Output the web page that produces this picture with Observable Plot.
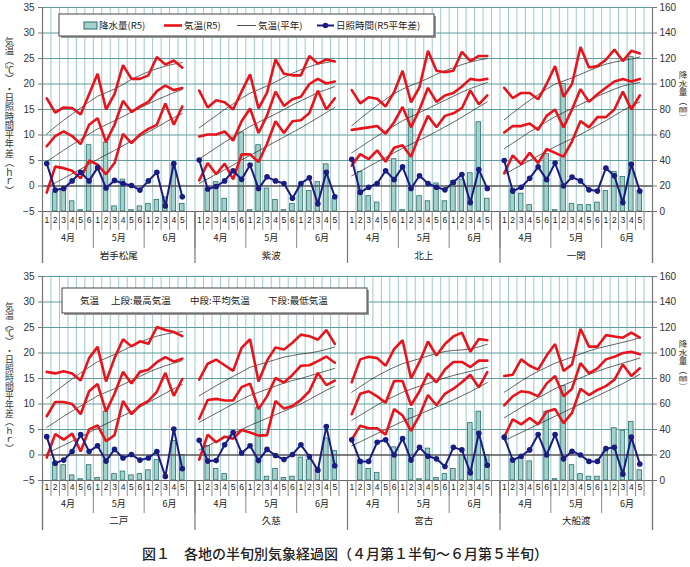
<!DOCTYPE html>
<html><head><meta charset="utf-8">
<script src="https://cdn.jsdelivr.net/npm/d3@7"></script>
<script src="https://cdn.jsdelivr.net/npm/@observablehq/plot@0.6"></script>
<style>
body{margin:0;background:#fff;font-family:"Noto Sans CJK JP",sans-serif;}
#wrap{position:relative;width:690px;height:567px;overflow:hidden;}
.row{position:absolute;left:0;}
#title{position:absolute;left:0;width:690px;top:543px;text-align:center;font-size:14px;font-weight:500;color:#222;font-family:"Noto Sans CJK JP",sans-serif;}
</style></head><body><div id="wrap">
<div id="r1" class="row" style="top:0"></div>
<div id="r2" class="row" style="top:268px"></div>
<div id="title">図１　各地の半旬別気象経過図（４月第１半旬～６月第５半旬）</div>
</div>
<script>
// ---- labels / ticks ----
const stations = ["岩手松尾","紫波","北上","一関","二戸","久慈","宮古","大船渡"];
const periodLabels = ["1","2","3","4","5","6","1","2","3","4","5","6","1","2","3","4","5"];
const monthLabels = ["4月","5月","6月"];
const tempTicks = [-5,0,5,10,15,20,25,30,35];
const precipTicks = [0,20,40,60,80,100,120,140,160];
const legendTop = ["降水量(R5)","気温(R5)","気温(平年)","日照時間(R5平年差)"];
const legendBottom = ["気温","上段:最高気温","中段:平均気温","下段:最低気温"];
const leftTitle = "気温︵℃︶・日照時間平年差︵ｈｒ︶";
const rightTitle = "降水量︵㎜︶";

// ---- data (one row per station, in the order of `stations`) ----
const precip = [
 [0,15,17,8,1,52,0,54,4,25,1,4,6,9,11,37,6],
 [0,18,23,10,0,62,1,52,18,9,1,6,20,16,23,37,10],
 [0,31,12,7,0,41,1,80,12,8,22,8,24,25,30,70,10],
 [0,18,14,5,0,45,1,100,6,5,5,7,16,31,27,121,16],
 [0,14,12,4,1,12,2,54,5,7,4,5,8,16,0,31,20],
 [0,27,9,5,0,0,0,57,3,9,2,3,18,16,10,33,23],
 [0,16,9,6,0,26,0,56,1,25,2,5,9,20,45,54,20],
 [0,17,18,15,0,54,1,74,12,5,3,3,23,41,39,46,8]
];
const tMaxR5 = [
 [17.2,14.4,15.4,15.3,14.0,18.0,22.0,15.0,18.0,23.7,21.0,21.0,21.7,25.3,23.8,24.6,23.2],
 [18.7,15.4,16.8,16.4,15.0,18.5,21.9,15.2,18.3,24.8,22.0,21.7,21.7,25.5,24.0,24.8,24.4],
 [18.8,16.2,17.4,17.1,15.6,18.4,22.6,16.4,19.4,26.5,22.6,22.3,22.6,26.3,24.5,25.5,25.5],
 [19.25,17.25,18.25,18.25,17.0,20.0,23.5,17.5,20.0,27.25,23.25,23.5,24.75,26.75,24.5,26.5,26.0],
 [16.3,16.0,16.4,16.0,14.6,19.0,21.2,14.4,19.0,22.7,21.3,22.3,21.8,25.1,24.5,24.1,23.3],
 [14.8,17.9,18.7,17.6,16.5,21.0,22.7,14.4,18.5,21.1,20.7,22.0,23.6,23.3,22.6,24.5,21.8],
 [14.25,18.75,19.25,19.0,17.5,20.75,22.5,15.0,18.25,22.25,19.5,21.75,23.25,24.0,20.25,22.75,22.5],
 [15.5,15.75,18.75,17.5,16.75,19.5,21.75,16.5,17.75,24.75,21.25,21.25,23.5,23.25,23.0,24.0,23.0]
];
const tMeanR5 = [
 [7.8,9.8,10.7,9.8,8.2,12.0,13.3,8.6,12.0,16.7,14.5,15.6,16.5,18.6,19.7,18.8,19.2],
 [9.7,10.1,10.1,10.7,8.9,12.7,15.2,10.4,13.8,18.5,15.7,17.0,17.5,20.0,21.0,20.1,20.5],
 [11.0,11.25,11.5,11.75,10.25,12.5,15.5,11.5,15.0,19.25,16.5,17.75,18.25,19.5,21.0,20.75,21.0],
 [10.5,11.75,11.75,12.25,11.0,13.75,15.0,11.5,15.0,19.0,16.5,18.0,19.25,20.5,21.0,20.5,21.0],
 [7.6,10.4,10.4,10.0,8.0,12.5,13.9,8.5,12.0,16.3,14.0,16.3,16.7,18.2,19.2,18.3,18.9],
 [7.1,10.8,11.0,10.7,10.7,13.3,14.0,9.0,11.5,15.1,14.2,15.7,17.5,17.6,18.4,19.3,18.1],
 [8.0,12.0,12.5,11.5,10.25,14.5,14.5,9.75,12.5,16.0,14.25,16.75,18.25,18.25,17.25,18.5,18.5],
 [9.75,11.5,12.5,12.25,11.5,14.0,15.5,11.5,13.0,18.0,16.0,17.0,18.75,19.25,20.0,20.25,19.75]
];
const tMinR5 = [
 [-1.3,3.8,3.5,3.0,1.5,5.0,4.2,2.3,4.5,10.2,8.4,10.1,11.2,12.0,16.2,12.0,15.6],
 [1.1,4.5,2.3,4.4,1.3,6.2,6.2,4.7,8.3,12.7,10.4,12.7,12.9,14.3,18.7,15.0,17.2],
 [4.0,6.25,5.25,7.0,4.75,7.5,8.0,5.75,10.0,13.75,11.5,13.75,14.25,15.25,18.75,16.0,17.75],
 [2.5,6.0,4.25,6.5,4.5,7.25,6.5,5.75,8.75,12.75,11.5,13.5,13.5,15.0,18.5,15.0,17.75],
 [-0.5,4.1,3.0,4.2,0.7,5.0,5.8,2.7,3.9,10.6,8.0,9.7,10.6,12.4,16.1,11.6,14.9],
 [-0.9,4.0,2.5,3.6,3.2,4.9,4.4,3.8,3.9,10.6,9.1,9.6,10.8,12.5,16.1,13.7,14.6],
 [3.0,5.75,5.25,5.25,4.0,9.0,7.75,4.75,7.75,11.75,9.75,12.0,13.0,14.25,15.75,13.25,16.25],
 [3.5,7.0,6.0,7.25,6.0,8.5,9.0,6.25,8.25,13.0,11.75,12.75,13.5,14.75,17.75,15.5,17.0]
];
const tMaxNorm = [
 [10.2,11.6,12.9,14.1,15.3,16.5,17.6,18.3,19.0,19.9,20.9,21.7,22.4,23.0,23.5,23.9,24.2],
 [11.4,12.6,13.8,15.0,16.1,17.2,18.2,18.9,19.6,20.4,21.3,22.1,22.8,23.4,23.9,24.2,24.5],
 [11.8,13.2,14.5,15.8,17.0,18.1,19.0,19.7,20.4,21.1,21.9,22.6,23.2,23.8,24.3,24.7,25.0],
 [13.0,14.3,15.6,16.8,17.9,19.0,20.0,20.6,21.2,21.9,22.6,23.3,23.9,24.3,24.6,24.9,25.3],
 [11.1,12.4,13.7,14.9,16.1,17.2,18.3,19.0,19.7,20.5,21.3,22.1,22.8,23.3,23.7,24.0,24.2],
 [11.6,12.6,13.6,14.5,15.4,16.3,17.2,17.7,18.2,18.7,19.2,19.5,19.8,20.0,20.3,20.7,21.2],
 [12.3,13.4,14.5,15.5,16.4,17.2,17.9,18.4,18.9,19.4,19.9,20.3,20.5,20.6,20.8,21.2,21.7],
 [12.3,13.4,14.5,15.5,16.4,17.2,18.0,18.6,19.2,19.8,20.4,20.9,21.3,21.7,22.1,22.5,23.0]
];
const tMeanNorm = [
 [4.8,5.9,7.0,8.1,9.1,10.2,11.2,12.0,12.8,13.6,14.5,15.3,16.1,16.9,17.6,18.3,18.9],
 [5.3,6.4,7.5,8.6,9.6,10.7,11.7,12.5,13.3,14.1,15.0,15.9,16.7,17.5,18.3,18.9,19.5],
 [6.5,7.6,8.7,9.8,10.8,11.8,12.8,13.6,14.4,15.2,16.0,16.8,17.6,18.4,19.1,19.7,20.3],
 [7.3,8.4,9.5,10.6,11.6,12.6,13.6,14.4,15.2,16.0,16.8,17.6,18.3,19.0,19.6,20.0,20.3],
 [5.4,6.5,7.6,8.6,9.6,10.6,11.6,12.3,13.0,13.8,14.6,15.4,16.2,16.9,17.5,18.0,18.5],
 [6.4,7.3,8.2,9.1,10.0,10.9,11.7,12.3,12.9,13.5,14.1,14.6,15.0,15.5,16.0,16.5,17.0],
 [6.8,7.8,8.8,9.8,10.7,11.5,12.3,12.9,13.5,14.0,14.6,15.1,15.6,16.0,16.4,16.8,17.2],
 [7.3,8.3,9.3,10.3,11.2,12.1,13.0,13.7,14.4,15.1,15.8,16.4,17.0,17.5,18.0,18.5,19.0]
];
const tMinNorm = [
 [-0.3,0.6,1.5,2.4,3.3,4.3,5.2,6.1,7.0,7.9,8.8,9.7,10.6,11.5,12.5,13.4,14.2],
 [0.5,1.4,2.3,3.2,4.1,5.1,6.0,6.9,7.8,8.7,9.6,10.5,11.4,12.4,13.4,14.4,15.4],
 [2.0,2.9,3.8,4.7,5.6,6.5,7.4,8.2,9.0,9.8,10.7,11.6,12.5,13.5,14.5,15.5,16.5],
 [2.3,3.2,4.1,5.0,5.9,6.8,7.7,8.5,9.3,10.1,11.0,11.9,12.8,13.8,14.8,15.7,16.5],
 [0.3,1.1,1.9,2.7,3.5,4.4,5.3,6.1,6.9,7.7,8.5,9.4,10.3,11.2,12.1,13.0,13.8],
 [1.0,1.8,2.6,3.4,4.2,5.0,5.8,6.5,7.2,7.9,8.6,9.3,10.0,10.9,11.8,12.7,13.5],
 [1.8,2.6,3.4,4.2,5.0,5.8,6.6,7.3,8.0,8.7,9.4,10.1,10.8,11.6,12.4,13.3,14.2],
 [2.8,3.6,4.4,5.2,6.0,6.8,7.6,8.4,9.2,10.0,10.8,11.6,12.4,13.2,14.0,14.9,15.8]
];
const sunAnom = [
 [4.4,-0.8,-0.5,1.0,2.7,1.0,3.6,-0.4,1.1,0.5,0.1,-0.8,1.0,2.7,-3.9,4.4,-2.1],
 [5.1,-0.6,-0.1,1.0,3.0,1.3,4.1,-0.5,1.8,1.0,0.5,-2.4,0.5,1.6,-3.5,2.7,-2.1],
 [5.25,-1.25,-0.25,0.5,3.0,1.25,3.75,-0.5,2.0,0.5,-0.25,-0.75,0.75,2.25,-3.25,3.25,-0.5],
 [5.0,-1.0,-0.25,1.5,3.75,1.25,4.5,0.0,1.75,1.0,-0.75,-1.0,3.5,2.0,-3.25,4.25,-1.0],
 [3.6,-1.6,-1.0,0.7,4.0,0.7,1.8,-1.2,1.1,-0.6,0.1,-1.0,-0.6,0.7,-4.2,5.1,-2.7],
 [2.9,-1.2,-1.1,2.0,4.4,0.4,1.8,-1.1,1.1,-0.1,-0.9,0.1,2.0,-0.3,-3.0,5.6,-2.1],
 [3.0,-1.25,-1.25,2.5,3.0,0.0,3.25,-1.0,1.5,-0.25,-0.75,-2.25,1.5,1.0,-3.5,4.25,-2.0],
 [3.5,-1.0,-0.25,1.0,4.0,0.0,4.0,-0.75,0.75,0.0,-1.25,-1.25,1.25,1.5,-3.75,3.5,-1.75]
];

// ---- styling ----
const RED = "#e8131b", NAVY = "#1a1c82", BARFILL = "#a3d1cc", BARSTROKE = "#2d6d6b";
const SLOTS = periodLabels.length + 1; // 17 periods + one blank slot per station
const PER_ROW = 4;
const NSLOT = SLOTS * PER_ROW;

// precipitation axis shares the frame with the temperature axis
const toLeft = d3.scaleLinear()
  .domain([precipTicks[0], precipTicks[precipTicks.length - 1]])
  .range([tempTicks[0], tempTicks[tempTicks.length - 1]]);

// month cells derived from the period labels
const monthStarts = periodLabels.map((l, i) => l === "1" ? i : -1).filter(i => i >= 0);

function buildRows(offset) {
  const rows = [];
  for (let s = 0; s < PER_ROW; s++) {
    const k = offset + s;
    periodLabels.forEach((lab, i) => rows.push({
      st: stations[k], s, i, x: s * SLOTS + i + 0.5,
      p: precip[k][i], mx: tMaxR5[k][i], mn: tMeanR5[k][i], mi: tMinR5[k][i],
      mxN: tMaxNorm[k][i], mnN: tMeanNorm[k][i], miN: tMinNorm[k][i], sun: sunAnom[k][i]
    }));
  }
  return rows;
}

function chart(offset, cfg) {
  const rows = buildRows(offset);
  const ymin = tempTicks[0], ymax = tempTicks[tempTicks.length - 1];
  const pxPerUnit = 204 / (ymax - ymin);
  const below = px => ymin - px / pxPerUnit;
  const slotBounds = d3.range(0, NSLOT + 1);
  const stationBounds = d3.range(0, PER_ROW + 1).map(s => s * SLOTS);
  const monthBounds = [], monthCells = [], stationCells = [];
  for (let s = 0; s < PER_ROW; s++) {
    monthStarts.forEach((st, m) => {
      const end = m + 1 < monthStarts.length ? monthStarts[m + 1] : SLOTS;
      monthBounds.push(s * SLOTS + st);
      monthCells.push({x: s * SLOTS + (st + end) / 2, label: monthLabels[m]});
    });
    stationCells.push({x: s * SLOTS + SLOTS / 2, label: stations[offset + s]});
  }
  const lineOpts = (key, stroke, w) => Plot.lineY(rows, {x: "x", y: key, z: "st", stroke, strokeWidth: w, strokeLinejoin: "miter"});
  const svg = Plot.plot({
    width: 690, height: cfg.height, marginTop: cfg.mt, marginBottom: cfg.height - cfg.mt - 204,
    marginLeft: 42, marginRight: 38,
    x: {domain: [0, NSLOT], axis: null},
    y: {domain: [ymin, ymax], axis: null},
    style: {fontFamily: "'Liberation Sans','Noto Sans CJK JP',sans-serif", fontSize: "10px", color: "#333", background: "white", overflow: "visible"},
    marks: [
      Plot.ruleX(slotBounds, {y1: ymin, y2: ymax, stroke: "#9ccaca", strokeWidth: 1}),
      Plot.ruleY(tempTicks.filter(t => t > ymin && t !== 0), {stroke: "#5f9e9e", strokeWidth: 1}),
      Plot.rectY(rows.filter(d => d.p > 0), {x1: d => d.x - 0.27, x2: d => d.x + 0.27, y1: ymin, y2: d => toLeft(d.p), fill: BARFILL, stroke: BARSTROKE, strokeWidth: 0.8}),
      Plot.ruleY([0], {stroke: "#555", strokeWidth: 1.6}),
      lineOpts("mxN", "#222", 0.7),
      lineOpts("mnN", "#222", 0.7),
      lineOpts("miN", "#222", 0.7),
      lineOpts("mx", RED, 2.6),
      lineOpts("mn", RED, 2.6),
      lineOpts("mi", RED, 2.6),
      lineOpts("sun", NAVY, 2),
      Plot.dot(rows, {x: "x", y: "sun", fill: NAVY, r: 2.8}),
      Plot.ruleY([ymin], {stroke: "#666", strokeWidth: 1.2}),
      Plot.ruleX([0, NSLOT], {y1: ymax, y2: below(cfg.sLen), stroke: "#777", strokeWidth: 1.2}),
      Plot.axisY(tempTicks, {anchor: "left", tickSize: 4, tickPadding: 4, label: null, fontSize: 10, stroke: "#777"}),
      Plot.axisY(precipTicks.map(toLeft), {anchor: "right", tickSize: 4, tickPadding: 3, label: null, fontSize: 10, stroke: "#777", tickFormat: t => String(Math.round(toLeft.invert(t)))}),
      Plot.ruleX(slotBounds, {y1: ymin, y2: below(cfg.pLen), stroke: "#888", strokeWidth: 1}),
      Plot.ruleX(monthBounds, {y1: ymin, y2: below(cfg.mLen), stroke: "#888", strokeWidth: 1}),
      Plot.ruleX(stationBounds, {y1: ymin, y2: below(cfg.sLen), stroke: "#777", strokeWidth: 1.2}),
      Plot.text(rows, {x: "x", text: d => periodLabels[d.i], frameAnchor: "bottom", dy: cfg.pDy, fontSize: 8.5, fill: "#222"}),
      Plot.text(monthCells, {x: "x", text: "label", frameAnchor: "bottom", dy: cfg.mDy, fontSize: 9, fill: "#222", fontFamily: "'Noto Sans CJK JP',sans-serif"}),
      Plot.text(stationCells, {x: "x", text: "label", frameAnchor: "bottom", dy: cfg.sDy, fontSize: 9.5, fill: "#222", fontFamily: "'Noto Sans CJK JP',sans-serif"})
    ]
  });
  return svg;
}

const svgTop = chart(0, {height: 268, mt: 7, pLen: 19, mLen: 37, sLen: 52, pDy: 11, mDy: 29, sDy: 47});
const svgBot = chart(4, {height: 266, mt: 8, pLen: 16, mLen: 33, sLen: 50, pDy: 9, mDy: 26, sDy: 43});
document.getElementById("r1").appendChild(svgTop);
document.getElementById("r2").appendChild(svgBot);

const FONT = "'Noto Sans CJK JP',sans-serif";
// vertical axis titles (single vertical text each)
function vTitle(svg, str, x, y0, size) {
  d3.select(svg).append("text")
    .attr("x", x).attr("y", y0)
    .attr("font-family", FONT).attr("font-size", size).attr("fill", "#333")
    .attr("text-anchor", "start")
    .style("writing-mode", "vertical-rl")
    .style("text-orientation", "upright")
    .text(str);
}
vTitle(svgTop, leftTitle, 9.5, 37, 9.3);
vTitle(svgTop, rightTitle, 683, 71, 8.5);
vTitle(svgBot, leftTitle, 9.5, 34, 8.9);
vTitle(svgBot, rightTitle, 683, 72, 8.5);

// top legend
{
  const g = d3.select(svgTop).append("g").attr("font-family", FONT).attr("font-size", 9.5).attr("fill", "#222").attr("text-anchor", "start");
  g.append("rect").attr("x", 61).attr("y", 16).attr("width", 375).attr("height", 22).attr("fill", "#9a9a9a");
  g.append("rect").attr("x", 59).attr("y", 14).attr("width", 375).attr("height", 22).attr("fill", "white").attr("stroke", "#444");
  const cy = 25.5;
  g.append("rect").attr("x", 84).attr("y", cy - 3.5).attr("width", 13).attr("height", 7).attr("fill", BARFILL).attr("stroke", BARSTROKE);
  g.append("text").attr("x", 99).attr("y", cy).attr("dy", "0.35em").text(legendTop[0]);
  g.append("line").attr("x1", 164).attr("x2", 182).attr("y1", cy).attr("y2", cy).attr("stroke", RED).attr("stroke-width", 2.6);
  g.append("text").attr("x", 184).attr("y", cy).attr("dy", "0.35em").text(legendTop[1]);
  g.append("line").attr("x1", 237).attr("x2", 256).attr("y1", cy).attr("y2", cy).attr("stroke", "#222").attr("stroke-width", 0.8);
  g.append("text").attr("x", 258).attr("y", cy).attr("dy", "0.35em").text(legendTop[2]);
  g.append("line").attr("x1", 317).attr("x2", 334).attr("y1", cy).attr("y2", cy).attr("stroke", NAVY).attr("stroke-width", 2);
  g.append("circle").attr("cx", 325.5).attr("cy", cy).attr("r", 2.8).attr("fill", NAVY);
  g.append("text").attr("x", 336).attr("y", cy).attr("dy", "0.35em").text(legendTop[3]);
}
// bottom legend
{
  const g = d3.select(svgBot).append("g").attr("font-family", FONT).attr("font-size", 9.5).attr("fill", "#222").attr("text-anchor", "start");
  g.append("rect").attr("x", 64).attr("y", 22).attr("width", 305).attr("height", 25).attr("fill", "#9a9a9a");
  g.append("rect").attr("x", 62).attr("y", 20).attr("width", 305).attr("height", 25).attr("fill", "white").attr("stroke", "#444");
  const xs = [80, 111, 190, 268];
  legendBottom.forEach((t, i) => g.append("text").attr("x", xs[i]).attr("y", 33).attr("dy", "0.35em").text(t));
}
</script>
</body></html>
